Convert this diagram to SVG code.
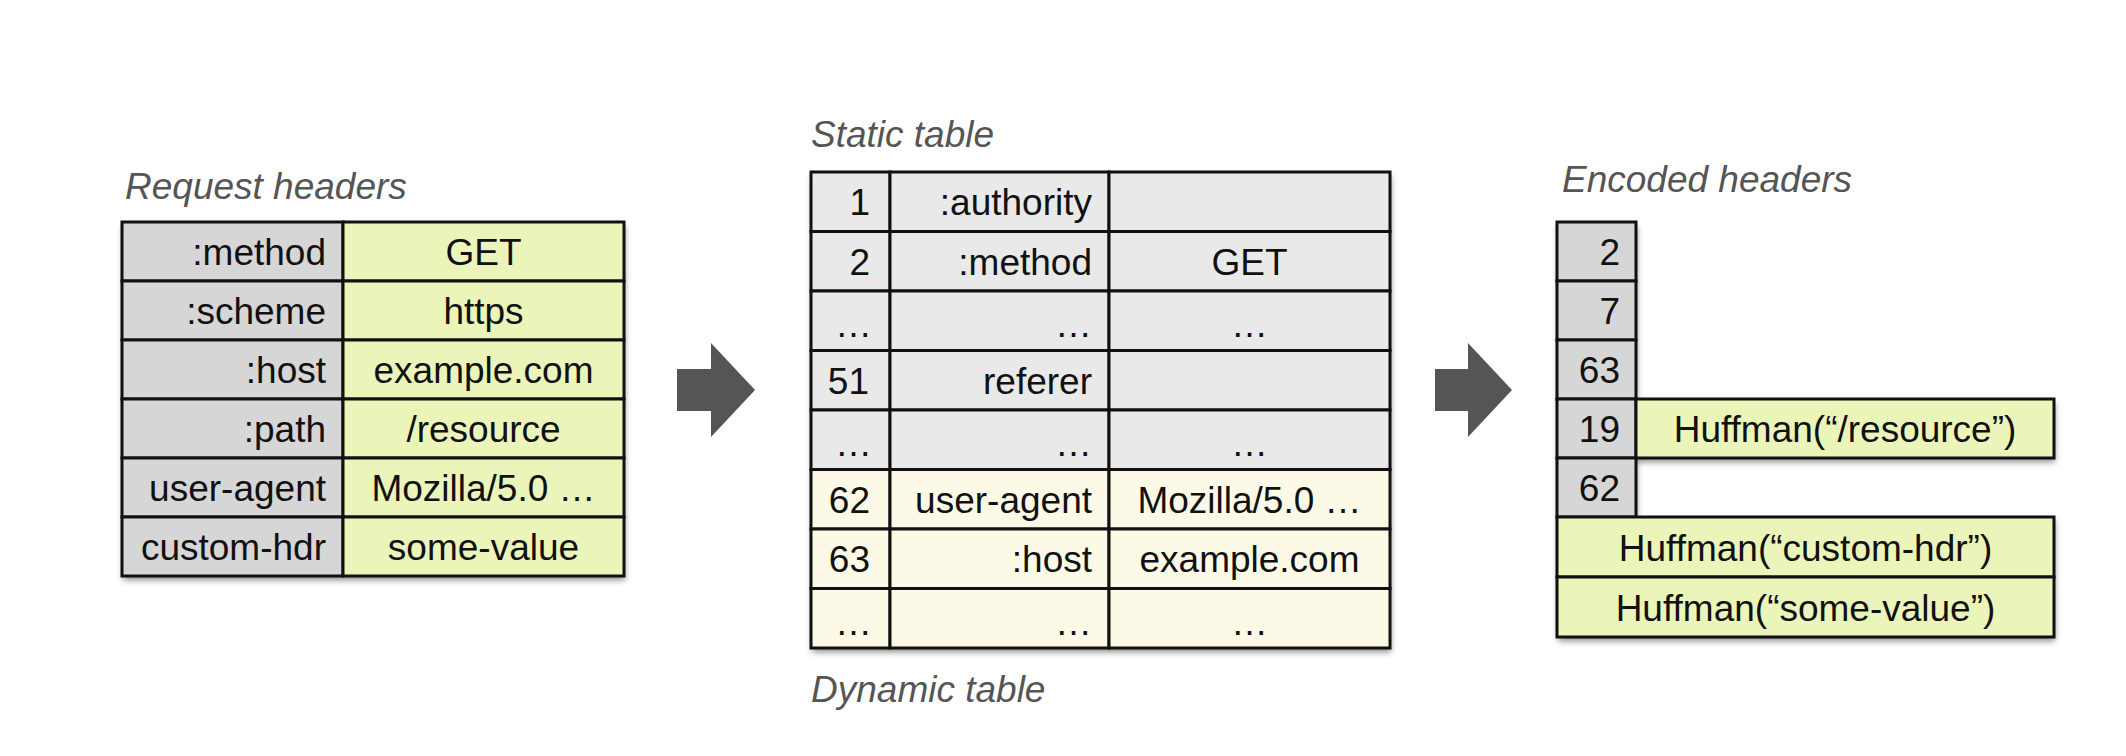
<svg xmlns="http://www.w3.org/2000/svg" width="2126" height="756" viewBox="0 0 2126 756">
<defs>
<filter id="sh" x="-5%" y="-5%" width="112%" height="115%">
<feDropShadow dx="1" dy="4" stdDeviation="3" flood-color="#000" flood-opacity="0.45"/>
</filter>
<style>
.t{font-family:"Liberation Sans",Arial,Helvetica,sans-serif;font-size:37px;fill:#111}
.r{text-anchor:end}
.c{text-anchor:middle}
.title{font-family:"Liberation Sans",Arial,Helvetica,sans-serif;font-style:italic;font-size:37px;fill:#555}
.b{stroke:#111;stroke-width:3}
.g{fill:#d6d6d6}
.y{fill:#ebf5b9}
.s{fill:#e9e9e9}
.d{fill:#fcfae7}
.arrow{fill:#555}
</style>
</defs>
<rect width="2126" height="756" fill="#fff"/>

<g id="request-headers">
<text class="title" x="125" y="199">Request headers</text>
<rect x="122" y="222" width="502" height="354" fill="#fff" filter="url(#sh)"/>
<rect class="b g" x="122" y="222" width="221" height="59"/><rect class="b y" x="343" y="222" width="281" height="59"/>
<rect class="b g" x="122" y="281" width="221" height="59"/><rect class="b y" x="343" y="281" width="281" height="59"/>
<rect class="b g" x="122" y="340" width="221" height="59"/><rect class="b y" x="343" y="340" width="281" height="59"/>
<rect class="b g" x="122" y="399" width="221" height="59"/><rect class="b y" x="343" y="399" width="281" height="59"/>
<rect class="b g" x="122" y="458" width="221" height="59"/><rect class="b y" x="343" y="458" width="281" height="59"/>
<rect class="b g" x="122" y="517" width="221" height="59"/><rect class="b y" x="343" y="517" width="281" height="59"/>
<text class="t r" x="326" y="265">:method</text><text class="t c" x="483.5" y="265">GET</text>
<text class="t r" x="326" y="324">:scheme</text><text class="t c" x="483.5" y="324">https</text>
<text class="t r" x="326" y="383">:host</text><text class="t c" x="483.5" y="383">example.com</text>
<text class="t r" x="326" y="442">:path</text><text class="t c" x="483.5" y="442">/resource</text>
<text class="t r" x="326" y="501">user-agent</text><text class="t c" x="483.5" y="501">Mozilla/5.0 …</text>
<text class="t r" x="326" y="560">custom-hdr</text><text class="t c" x="483.5" y="560">some-value</text>
</g>

<g id="header-table">
<text class="title" x="811" y="147">Static table</text>
<text class="title" x="811" y="702">Dynamic table</text>
<rect x="811" y="172" width="579" height="476" fill="#fff" filter="url(#sh)"/>
<g id="static-table">
<rect class="b s" x="811" y="172" width="79" height="59.5"/><rect class="b s" x="890" y="172" width="219" height="59.5"/><rect class="b s" x="1109" y="172" width="281" height="59.5"/>
<rect class="b s" x="811" y="231.5" width="79" height="59.5"/><rect class="b s" x="890" y="231.5" width="219" height="59.5"/><rect class="b s" x="1109" y="231.5" width="281" height="59.5"/>
<rect class="b s" x="811" y="291" width="79" height="59.5"/><rect class="b s" x="890" y="291" width="219" height="59.5"/><rect class="b s" x="1109" y="291" width="281" height="59.5"/>
<rect class="b s" x="811" y="350.5" width="79" height="59.5"/><rect class="b s" x="890" y="350.5" width="219" height="59.5"/><rect class="b s" x="1109" y="350.5" width="281" height="59.5"/>
<rect class="b s" x="811" y="410" width="79" height="59.5"/><rect class="b s" x="890" y="410" width="219" height="59.5"/><rect class="b s" x="1109" y="410" width="281" height="59.5"/>
<text class="t r" x="870" y="215">1</text><text class="t r" x="1092" y="215">:authority</text>
<text class="t r" x="870" y="274.5">2</text><text class="t r" x="1092" y="274.5">:method</text><text class="t c" x="1249.5" y="274.5">GET</text>
<text class="t r" x="872" y="337">…</text><text class="t r" x="1092" y="337">…</text><text class="t c" x="1249.5" y="337">…</text>
<text class="t r" x="869" y="393.5">51</text><text class="t r" x="1092" y="393.5">referer</text>
<text class="t r" x="872" y="456">…</text><text class="t r" x="1092" y="456">…</text><text class="t c" x="1249.5" y="456">…</text>
</g>
<g id="dynamic-table">
<rect class="b d" x="811" y="469.5" width="79" height="59.5"/><rect class="b d" x="890" y="469.5" width="219" height="59.5"/><rect class="b d" x="1109" y="469.5" width="281" height="59.5"/>
<rect class="b d" x="811" y="529" width="79" height="59.5"/><rect class="b d" x="890" y="529" width="219" height="59.5"/><rect class="b d" x="1109" y="529" width="281" height="59.5"/>
<rect class="b d" x="811" y="588.5" width="79" height="59.5"/><rect class="b d" x="890" y="588.5" width="219" height="59.5"/><rect class="b d" x="1109" y="588.5" width="281" height="59.5"/>
<text class="t r" x="870" y="512.5">62</text><text class="t r" x="1092" y="512.5">user-agent</text><text class="t c" x="1249.5" y="512.5">Mozilla/5.0 …</text>
<text class="t r" x="870" y="572">63</text><text class="t r" x="1092" y="572">:host</text><text class="t c" x="1249.5" y="572">example.com</text>
<text class="t r" x="872" y="634.5">…</text><text class="t r" x="1092" y="634.5">…</text><text class="t c" x="1249.5" y="634.5">…</text>
</g>
</g>

<g id="encoded-headers">
<text class="title" x="1562" y="192">Encoded headers</text>
<path d="M1557 222 H1636 V399 H2054 V458 H1636 V517 H2054 V637 H1557 Z" fill="#fff" filter="url(#sh)"/>
<rect class="b g" x="1557" y="222" width="79" height="59"/>
<rect class="b g" x="1557" y="281" width="79" height="59"/>
<rect class="b g" x="1557" y="340" width="79" height="59"/>
<rect class="b g" x="1557" y="399" width="79" height="59"/><rect class="b y" x="1636" y="399" width="418" height="59"/>
<rect class="b g" x="1557" y="458" width="79" height="59"/>
<rect class="b y" x="1557" y="517" width="497" height="60"/>
<rect class="b y" x="1557" y="577" width="497" height="60"/>
<text class="t r" x="1620" y="265">2</text>
<text class="t r" x="1620" y="324">7</text>
<text class="t r" x="1620" y="383">63</text>
<text class="t r" x="1620" y="442">19</text><text class="t c" x="1845" y="442">Huffman(“/resource”)</text>
<text class="t r" x="1620" y="501">62</text>
<text class="t c" x="1805.5" y="560.5">Huffman(“custom-hdr”)</text>
<text class="t c" x="1805.5" y="620.5">Huffman(“some-value”)</text>
</g>

<g id="connectors">
<polygon class="arrow" points="677,369 711,369 711,343 755,390 711,437 711,411 677,411"/>
<polygon class="arrow" points="1435,369 1468,369 1468,343 1512,390 1468,437 1468,411 1435,411"/>
</g>
</svg>
